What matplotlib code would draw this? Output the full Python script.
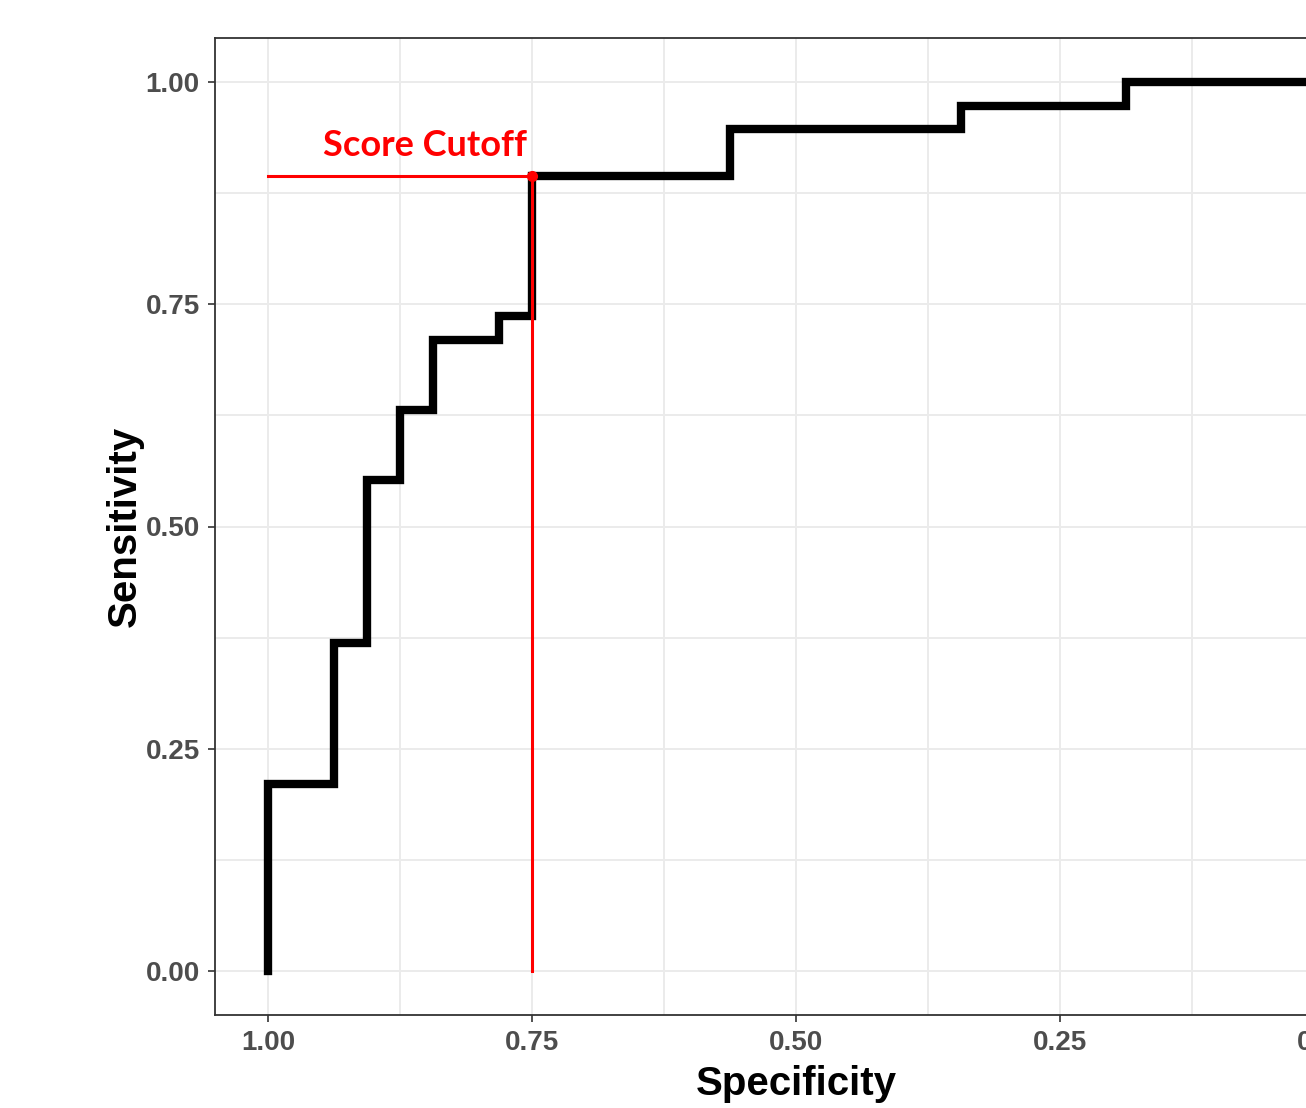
import matplotlib
matplotlib.use("Agg")
import matplotlib.pyplot as plt
import numpy as np

# ROC curve corner points (specificity, sensitivity)
specificity = [1.0, 1.0, 30/32, 29/32, 28/32, 27/32, 25/32, 24/32, 18/32, 11/32, 6/32, 0.0]
sensitivity = [0.0, 8/38, 14/38, 21/38, 24/38, 27/38, 28/38, 34/38, 36/38, 37/38, 1.0, 1.0]

cutoff_spec = 0.75
cutoff_sens = 34/38
cutoff_label = "Score Cutoff"

ticks = [1.00, 0.75, 0.50, 0.25, 0.00]
tick_labels = ["1.00", "0.75", "0.50", "0.25", "0.00"]
minor_ticks = [0.875, 0.625, 0.375, 0.125]

W, H = 1306, 1108
fig = plt.figure(figsize=(W/100, H/100), dpi=100)
ax = fig.add_axes([215/W, 93/H, (1377-215)/W, (1015-38)/H])

ax.set_xlim(1.05, -0.05)
ax.set_ylim(-0.05, 1.05)

# grid
for v in ticks + minor_ticks:
    ax.axvline(v, color="#EBEBEB", lw=1.4, zorder=0)
    ax.axhline(v, color="#EBEBEB", lw=1.4, zorder=0)

ax.step(specificity, sensitivity, where="post", color="black", lw=6.0,
        solid_joinstyle="miter", zorder=2)

ax.plot([1.0, cutoff_spec], [cutoff_sens, cutoff_sens], color="red", lw=2.2, zorder=3)
ax.plot([cutoff_spec, cutoff_spec], [0.0, cutoff_sens], color="red", lw=2.2, zorder=3)
ax.plot([cutoff_spec], [cutoff_sens], "o", color="red", ms=7, zorder=4)
ax.text(0.851, 0.917, cutoff_label, color="red", fontsize=26, fontweight="bold",
        family=["Lato", "DejaVu Sans"], ha="center", va="baseline")

tick_font = dict(family=["Liberation Sans", "DejaVu Sans"], weight="bold",
                 size=20, color="#4D4D4D")
ax.set_xticks(ticks)
ax.set_xticklabels(tick_labels, **tick_font)
ax.set_yticks(ticks)
ax.set_yticklabels(tick_labels, **tick_font)
ax.tick_params(axis="both", length=5, width=1.2, color="#333333", pad=6)

for s in ax.spines.values():
    s.set_color("#333333")
    s.set_linewidth(1.3)

lab_font = dict(family=["Liberation Sans", "DejaVu Sans"], weight="bold", size=29, color="black")
ax.set_xlabel("Specificity", labelpad=6, **lab_font)
ax.set_ylabel("Sensitivity", labelpad=1, **lab_font)

fig.savefig("out.png", dpi=100)
